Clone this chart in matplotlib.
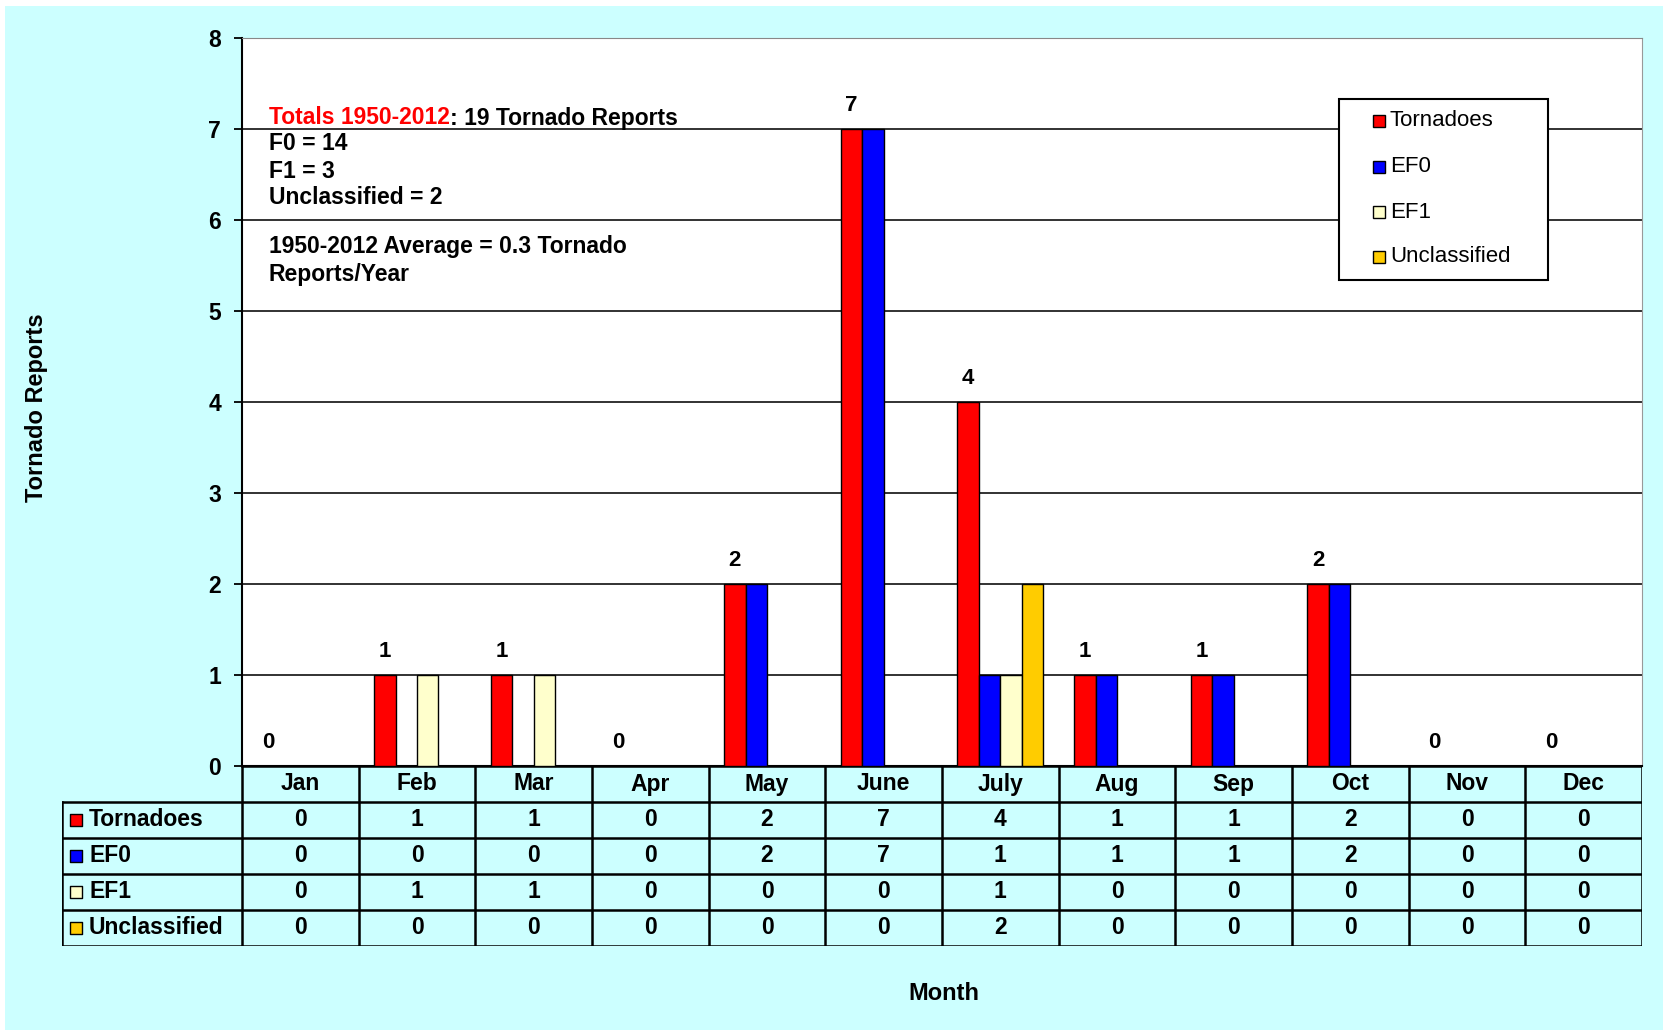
"""
Tornado reports by month, 1950-2012 (bar chart with data table below).
"""
import numpy as np
import matplotlib
matplotlib.use("Agg")
import matplotlib.pyplot as plt
from matplotlib.patches import Rectangle

#<---------------------------Datos---------------------------->
months = ['Jan', 'Feb', 'Mar', 'Apr', 'May', 'June', 'July', 'Aug', 'Sep', 'Oct', 'Nov', 'Dec']
series_names = ['Tornadoes', 'EF0', 'EF1', 'Unclassified']
tornadoes = [0, 1, 1, 0, 2, 7, 4, 1, 1, 2, 0, 0]
ef0 = [0, 0, 0, 0, 2, 7, 1, 1, 1, 2, 0, 0]
ef1 = [0, 1, 1, 0, 0, 0, 1, 0, 0, 0, 0, 0]
unclassified = [0, 0, 0, 0, 0, 0, 2, 0, 0, 0, 0, 0]
colors = ['#FF0000', '#0000FF', '#FFFFCC', '#FFCC00']

W, H = 1663, 1030
BG = '#CCFFFF'
FS = 16.5
plt.rcParams['font.family'] = ['Liberation Sans', 'DejaVu Sans']

def fx(px):
    return px / W

def fy(py):
    return 1 - py / H

fig = plt.figure(figsize=(W / 100, H / 100), dpi=100, facecolor='white')
fig.add_artist(Rectangle((fx(5), 0), 1, fy(6), transform=fig.transFigure,
                         facecolor=BG, edgecolor='none', zorder=-10))

#<---------------------------Grafica---------------------------->
ax = fig.add_axes([fx(242), fy(766), fx(1642) - fx(242), fy(38) - fy(766)])
ax.set_facecolor('white')
x = np.arange(len(months))
bw = 0.184
all_series = [tornadoes, ef0, ef1, unclassified]
for i, (vals, c) in enumerate(zip(all_series, colors)):
    lw = [1.0 if v else 0 for v in vals]
    ax.bar(x + (i - 1.5) * bw, vals, width=bw, color=c, edgecolor='black',
           linewidth=lw, zorder=3)

for xi, v in zip(x, tornadoes):
    ax.annotate(str(v), (xi - 1.5 * bw, v), xytext=(0, 17), textcoords='offset points',
                ha='center', va='center', fontsize=16, fontweight='bold')

ax.set_xlim(-0.5, 11.5)
ax.set_ylim(0, 8)
ax.set_yticks(range(0, 9))
ax.set_xticks([])
ax.yaxis.grid(True, color='#222222', linewidth=1.3)
ax.set_axisbelow(True)
ax.tick_params(axis='y', length=6, width=1.3, pad=9, labelsize=FS)
for lab in ax.get_yticklabels():
    lab.set_fontweight('bold')
ax.spines['left'].set_linewidth(1.5)
ax.spines['bottom'].set_linewidth(1.5)
ax.spines['top'].set_color('#888888')
ax.spines['right'].set_color('#999999')

# texto con los totales
t1 = fig.text(fx(269), fy(118), 'Totals 1950-2012', color='red', fontsize=FS,
              fontweight='bold', va='center', ha='left')
ax.annotate(': 19 Tornado Reports', xy=(1, 0), xycoords=t1, va='bottom', ha='left',
            fontsize=FS, fontweight='bold')
other_lines = [('F0 = 14', 144), ('F1 = 3', 171), ('Unclassified = 2', 197),
               ('1950-2012 Average = 0.3 Tornado', 247), ('Reports/Year', 274)]
for s, py in other_lines:
    fig.text(fx(269), fy(py), s, fontsize=FS, fontweight='bold', va='center', ha='left')

# leyenda
fig.add_artist(Rectangle((fx(1339), fy(280)), fx(209), fy(99) - fy(280),
                         transform=fig.transFigure, facecolor='white',
                         edgecolor='black', linewidth=1.5, zorder=5))
for name, c, py in zip(series_names, colors, [121, 167, 212, 257]):
    fig.add_artist(Rectangle((fx(1373), fy(py + 6)), fx(12), fy(py - 6) - fy(py + 6),
                             transform=fig.transFigure, facecolor=c,
                             edgecolor='black', linewidth=1, zorder=6))
    fig.text(fx(1390), fy(py), name, fontsize=16, va='center', ha='left', zorder=7)

#<---------------------------Tabla---------------------------->
tab = fig.add_axes([fx(61.5), fy(946), fx(1642) - fx(61.5), fy(766) - fy(946)])
tab.set_xlim(-0.5 - 180.5 / (1400 / 12), 11.5)
tab.set_ylim(5, 0)
tab.axis('off')
x0 = tab.get_xlim()[0]
lc = dict(color='black', linewidth=1.8)
tab.plot([-0.5, 11.5], [0, 0], **lc)
for r in range(1, 6):
    tab.plot([x0, 11.5], [r, r], **lc)
tab.plot([x0, x0], [1, 5], **lc)
for i in range(13):
    tab.plot([i - 0.5, i - 0.5], [0, 5], **lc)

for i, m in enumerate(months):
    tab.text(i, 0.5, m, ha='center', va='center', fontsize=FS, fontweight='bold')
for r, (name, vals, c) in enumerate(zip(series_names, all_series, colors), start=1):
    tab.scatter([x0 + 0.124], [r + 0.5], marker='s', s=70, color=c,
                edgecolor='black', linewidth=1, zorder=4)
    tab.text(x0 + 0.236, r + 0.5, name, ha='left', va='center', fontsize=FS,
             fontweight='bold')
    for i, v in enumerate(vals):
        tab.text(i, r + 0.5, str(v), ha='center', va='center', fontsize=FS,
                 fontweight='bold')

fig.text(fx(37), fy(408), 'Tornado Reports', rotation=90, ha='center', va='center',
         fontsize=17, fontweight='bold')
fig.text(fx(944), fy(994), 'Month', ha='center', va='center', fontsize=17,
         fontweight='bold')

plt.savefig('out.png', dpi=100, facecolor=fig.get_facecolor())
